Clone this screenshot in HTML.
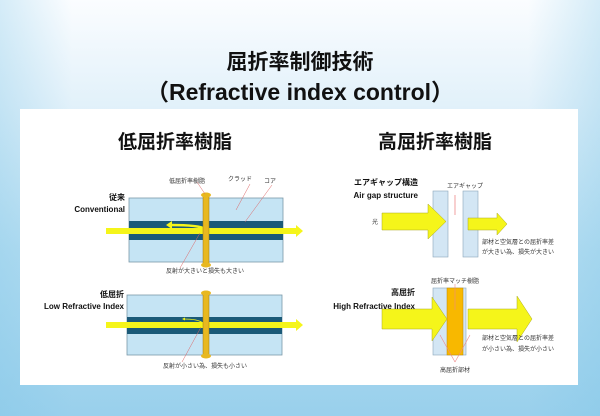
<!DOCTYPE html>
<html><head><meta charset="utf-8"><style>
html,body{margin:0;padding:0;width:600px;height:416px;overflow:hidden}
html{background:#99d0ec}
body{background:linear-gradient(180deg,#fbfdff 0%,#e2f1fa 25%,#b6def2 60%,#99d0ec 100%);font-family:"Liberation Sans","Noto Sans CJK JP",sans-serif}
svg{display:block}
</style></head><body>
<svg width="600" height="416" viewBox="0 0 600 416" xmlns="http://www.w3.org/2000/svg" font-family="'Liberation Sans','Noto Sans CJK JP',sans-serif">
<defs>
<linearGradient id="side" x1="0" x2="1" y1="0" y2="0">
<stop offset="0" stop-color="#7cc4e6" stop-opacity="0.3"/><stop offset="0.12" stop-color="#7cc4e6" stop-opacity="0"/><stop offset="0.88" stop-color="#7cc4e6" stop-opacity="0"/><stop offset="1" stop-color="#7cc4e6" stop-opacity="0.3"/></linearGradient>
</defs>
<rect x="0" y="0" width="600" height="416" fill="url(#side)"/>
<text x="300" y="69" font-size="21" font-weight="bold" text-anchor="middle" fill="#111">屈折率制御技術</text>
<text x="300" y="100" font-size="23" font-weight="bold" text-anchor="middle" fill="#111">（Refractive index control）</text>
<rect x="20" y="109" width="558" height="276" fill="#fff"/>
<text x="175" y="148" font-size="19" font-weight="bold" text-anchor="middle" fill="#111">低屈折率樹脂</text>
<text x="435" y="148" font-size="19" font-weight="bold" text-anchor="middle" fill="#111">高屈折率樹脂</text>

<!-- left top -->
<g font-size="6" fill="#333">
<rect x="129" y="198" width="154" height="64" fill="#c5e4f4" stroke="#7a98a8" stroke-width="0.8"/>
<rect x="129" y="221" width="154" height="19" fill="#1b5a78"/>
<rect x="106" y="228" width="190" height="6" fill="#f5f51a"/>
<polygon points="296,225 303,231 296,237" fill="#f5f51a"/>
<path d="M205,229 Q200,225 170,225" stroke="#f5f51a" stroke-width="2.5" fill="none"/>
<polygon points="166,225 172,221 172,229" fill="#f5f51a"/>
<rect x="203" y="194" width="6" height="72" fill="#e8b820" stroke="#a07810" stroke-width="0.5"/>
<ellipse cx="206" cy="195" rx="5" ry="2.5" fill="#e8b820"/><ellipse cx="206" cy="265" rx="5" ry="2.5" fill="#e8b820"/>
<line x1="197" y1="182" x2="205" y2="194" stroke="#d66" stroke-width="0.5"/>
<line x1="250" y1="184" x2="236" y2="210" stroke="#d66" stroke-width="0.5"/>
<line x1="272" y1="185" x2="245" y2="222" stroke="#d66" stroke-width="0.5"/>
<line x1="180" y1="268" x2="200" y2="233" stroke="#d66" stroke-width="0.5"/>
<text x="187" y="183" text-anchor="middle">低屈折率樹脂</text>
<text x="240" y="181" text-anchor="middle">クラッド</text>
<text x="270" y="183" text-anchor="middle">コア</text>
<text x="205" y="273" text-anchor="middle">反射が大きいと損失も大きい</text>
<text x="125" y="200" text-anchor="end" font-size="8" font-weight="bold" fill="#111">従来</text>
<text x="125" y="212" text-anchor="end" font-size="8" font-weight="bold" fill="#111">Conventional</text>
</g>

<!-- left bottom -->
<g font-size="6" fill="#333">
<rect x="127" y="295" width="155" height="60" fill="#c5e4f4" stroke="#7a98a8" stroke-width="0.8"/>
<rect x="127" y="317" width="155" height="17" fill="#1b5a78"/>
<rect x="106" y="322" width="190" height="6" fill="#f5f51a"/>
<polygon points="296,319 303,325 296,331" fill="#f5f51a"/>
<path d="M203,323 Q198,319 184,319" stroke="#f5f51a" stroke-width="0.8" fill="none"/>
<polygon points="182,319 185,317.5 185,320.5" fill="#f5f51a"/>
<rect x="203" y="292" width="6" height="65" fill="#e8b820" stroke="#a07810" stroke-width="0.5"/>
<ellipse cx="206" cy="293" rx="5" ry="2.5" fill="#e8b820"/><ellipse cx="206" cy="356" rx="5" ry="2.5" fill="#e8b820"/>
<line x1="182" y1="362" x2="201" y2="327" stroke="#d66" stroke-width="0.5"/>
<text x="205" y="368" text-anchor="middle">反射が小さい為、損失も小さい</text>
<text x="124" y="297" text-anchor="end" font-size="8" font-weight="bold" fill="#111">低屈折</text>
<text x="124" y="309" text-anchor="end" font-size="8" font-weight="bold" fill="#111">Low Refractive Index</text>
</g>

<!-- right top -->
<g font-size="6" fill="#333">
<rect x="433" y="191" width="15" height="66" fill="#d3e6f4" stroke="#8aa6ba" stroke-width="0.6"/>
<rect x="463" y="191" width="15" height="66" fill="#d3e6f4" stroke="#8aa6ba" stroke-width="0.6"/>
<polygon points="382,213 428,213 428,204 446,221.5 428,239 428,230 382,230" fill="#f5f51a" stroke="#aaa820" stroke-width="0.5"/>
<polygon points="468,218 497,218 497,213 507,224 497,235 497,230 468,230" fill="#f5f51a" stroke="#aaa820" stroke-width="0.5"/>
<line x1="455" y1="195" x2="455" y2="215" stroke="#e88" stroke-width="0.8"/>
<text x="465" y="188" text-anchor="middle">エアギャップ</text>
<text x="372" y="224">光</text>
<text x="482" y="244">部材と空気層との屈折率差</text>
<text x="482" y="254">が大きい為、損失が大きい</text>
<text x="418" y="185" text-anchor="end" font-size="8" font-weight="bold" fill="#111">エアギャップ構造</text>
<text x="418" y="198" text-anchor="end" font-size="8" font-weight="bold" fill="#111">Air gap structure</text>
</g>

<!-- right bottom -->
<g font-size="6" fill="#333">
<rect x="433" y="288" width="33" height="67" fill="#d3e6f4" stroke="#8aa6ba" stroke-width="0.6"/>
<rect x="447" y="288" width="16" height="67" fill="#f8b800" stroke="#c08800" stroke-width="0.5"/>
<polygon points="382,309 432,309 432,297 447,319 432,341 432,329 382,329" fill="#f5f51a" stroke="#aaa820" stroke-width="0.5"/>
<polygon points="468,309 517,309 517,296 532,319 517,342 517,329 468,329" fill="#f5f51a" stroke="#aaa820" stroke-width="0.5"/>
<line x1="455" y1="284" x2="455" y2="310" stroke="#e88" stroke-width="0.6"/>
<line x1="440" y1="335" x2="455" y2="362" stroke="#e88" stroke-width="0.6"/>
<line x1="470" y1="335" x2="455" y2="362" stroke="#e88" stroke-width="0.6"/>
<text x="455" y="283" text-anchor="middle">屈折率マッチ樹脂</text>
<text x="455" y="372" text-anchor="middle">高屈折部材</text>
<text x="482" y="340">部材と空気層との屈折率差</text>
<text x="482" y="351">が小さい為、損失が小さい</text>
<text x="415" y="295" text-anchor="end" font-size="8" font-weight="bold" fill="#111">高屈折</text>
<text x="415" y="309" text-anchor="end" font-size="8" font-weight="bold" fill="#111">High Refractive Index</text>
</g>
</svg>
</body></html>
